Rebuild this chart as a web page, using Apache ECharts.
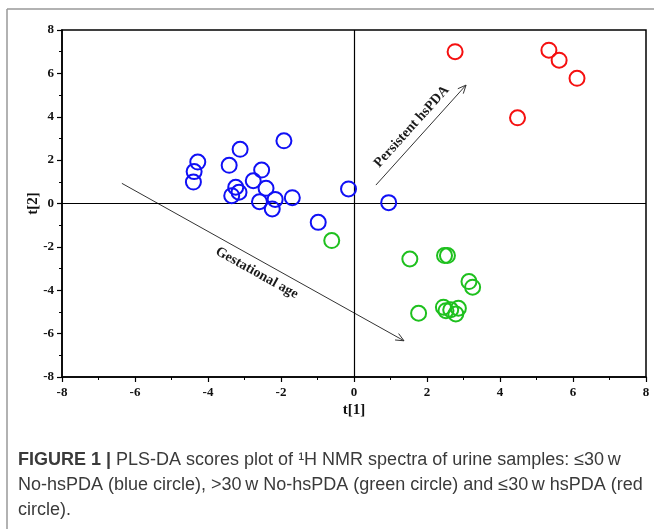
<!DOCTYPE html>
<html>
<head>
<meta charset="utf-8">
<script src="https://cdn.jsdelivr.net/npm/echarts@6/dist/echarts.min.js"></script>
<style>
html,body{margin:0;padding:0;background:#fff;}
#chart{width:654px;height:529px;}
</style>
</head>
<body>
<div id="chart"></div>
<script>
// ---- data ----
var blueNoHsPDA = [
  [-1.92, 2.89], [-3.12, 2.50], [-4.28, 1.91], [-4.38, 1.47], [-4.40, 0.99],
  [-3.42, 1.76], [-2.53, 1.54], [-2.76, 1.05], [-2.41, 0.70], [-3.24, 0.75],
  [-3.15, 0.52], [-3.35, 0.36], [-2.59, 0.08], [-2.16, 0.19], [-2.24, -0.25],
  [-1.69, 0.27], [-0.15, 0.67], [0.95, 0.04], [-0.98, -0.87]
];
var greenNoHsPDA = [
  [-0.61, -1.71], [1.53, -2.56], [2.48, -2.40], [2.56, -2.40], [3.15, -3.60],
  [3.25, -3.86], [1.77, -5.06], [2.45, -4.78], [2.52, -4.94], [2.79, -5.09],
  [2.86, -4.83], [2.65, -4.90]
];
var redHsPDA = [
  [2.77, 7.00], [5.34, 7.07], [5.62, 6.61], [6.11, 5.77], [4.48, 3.95]
];
// annotation arrows: [x1, y1, x2, y2] in data units
var arrows = [
  [0.60, 0.85, 3.07, 5.46],
  [-6.36, 0.93, 1.37, -6.33]
];
var arrowLabels = ['Persistent hsPDA', 'Gestational age'];
var arrowLabelSide = [-1, 1];
var xName = 't[1]';
var yName = 't[2]';
var captionLines = [
  '{b|FIGURE 1 |} PLS-DA scores plot of \u00b9H NMR spectra of urine samples: \u226430\u2009w',
  'No-hsPDA (blue circle), >30\u2009w No-hsPDA (green circle) and \u226430\u2009w hsPDA (red',
  'circle).'
];

var serif = '"Liberation Serif","DejaVu Serif",serif';
var sans = '"Liberation Sans","Noto Sans",Arial,sans-serif';

function circleSeries(name, data, color) {
  return {
    name: name, type: 'scatter', data: data,
    symbol: 'circle', symbolSize: 15,
    itemStyle: {color: 'rgba(0,0,0,0)', borderColor: color, borderWidth: 2, opacity: 1},
    emphasis: {disabled: true},
    z: 5
  };
}

var chart = echarts.init(document.getElementById('chart'), null, {renderer: 'canvas'});

var option = {
  animation: false,
  backgroundColor: '#ffffff',
  title: {
    text: captionLines.join('\n'),
    left: 13, top: 443,
    textStyle: {
      fontFamily: sans, fontSize: 18, fontWeight: 'normal', color: '#3a3a3a', lineHeight: 25,
      rich: {
        b: {fontFamily: sans, fontSize: 18, fontWeight: 'bold', color: '#3a3a3a', lineHeight: 25}
      }
    }
  },
  graphic: [
    {type: 'line', shape: {x1: 7, y1: 9, x2: 7, y2: 529}, style: {stroke: '#999', lineWidth: 1.5}},
    {type: 'line', shape: {x1: 7, y1: 9, x2: 654, y2: 9}, style: {stroke: '#999', lineWidth: 1.5}}
  ],
  grid: {left: 62, right: 8, top: 30, bottom: 152, show: true, borderColor: '#000', borderWidth: 1.5, backgroundColor: 'transparent'},
  xAxis: {
    type: 'value', min: -8, max: 8, interval: 2,
    name: xName, nameLocation: 'middle', nameGap: 26, nameMoveOverlap: false,
    nameTextStyle: {fontFamily: serif, fontWeight: 'bold', fontSize: 15, color: '#111'},
    axisLine: {show: true, onZero: false, lineStyle: {color: '#000', width: 1.5}},
    axisTick: {show: true, inside: false, length: 5, lineStyle: {color: '#000', width: 1.2}},
    minorTick: {show: true, splitNumber: 2, length: 3, lineStyle: {color: '#000', width: 1}},
    axisLabel: {fontFamily: serif, fontWeight: 'bold', fontSize: 13, color: '#111', margin: 9},
    splitLine: {show: false}
  },
  yAxis: {
    type: 'value', min: -8, max: 8, interval: 2,
    name: yName, nameLocation: 'middle', nameGap: 21, nameRotate: 90, nameMoveOverlap: false,
    nameTextStyle: {fontFamily: serif, fontWeight: 'bold', fontSize: 15, color: '#111'},
    axisLine: {show: true, onZero: false, lineStyle: {color: '#000', width: 1.5}},
    axisTick: {show: true, inside: false, length: 5, lineStyle: {color: '#000', width: 1.2}},
    minorTick: {show: true, splitNumber: 2, length: 3, lineStyle: {color: '#000', width: 1}},
    axisLabel: {fontFamily: serif, fontWeight: 'bold', fontSize: 13, color: '#111', margin: 8},
    splitLine: {show: false}
  },
  series: [
    {
      type: 'line', data: [], silent: true,
      markLine: {
        silent: true, symbol: ['none', 'none'], label: {show: false},
        lineStyle: {color: '#000', width: 1.2, type: 'solid'},
        emphasis: {disabled: true},
        data: [{xAxis: 0}, {yAxis: 0}]
      }
    },
    circleSeries('blue', blueNoHsPDA, '#1010f5'),
    circleSeries('green', greenNoHsPDA, '#1ec01e'),
    circleSeries('red', redHsPDA, '#f51010'),
    {
      type: 'custom', data: arrows, silent: true, clip: false, z: 4,
      renderItem: function (params, api) {
        var p1 = api.coord([api.value(0), api.value(1)]);
        var p2 = api.coord([api.value(2), api.value(3)]);
        var dx = p2[0] - p1[0], dy = p2[1] - p1[1];
        var len = Math.sqrt(dx * dx + dy * dy);
        var ux = dx / len, uy = dy / len;
        var head = 9, spread = 0.42;
        var a = Math.atan2(uy, ux);
        var h1 = [p2[0] - head * Math.cos(a - spread), p2[1] - head * Math.sin(a - spread)];
        var h2 = [p2[0] - head * Math.cos(a + spread), p2[1] - head * Math.sin(a + spread)];
        var side = arrowLabelSide[params.dataIndex];
        var off = 12.5;
        var mx = (p1[0] + p2[0]) / 2 + side * (-uy) * off;
        var my = (p1[1] + p2[1]) / 2 + side * (ux) * off;
        return {
          type: 'group',
          children: [
            {type: 'line', shape: {x1: p1[0], y1: p1[1], x2: p2[0], y2: p2[1]}, style: {stroke: '#333', lineWidth: 1}},
            {type: 'polyline', shape: {points: [h1, p2, h2]}, style: {stroke: '#333', lineWidth: 1, fill: null}},
            {type: 'text', x: mx, y: my, rotation: -a, originX: 0, originY: 0,
              style: {text: arrowLabels[params.dataIndex], fontFamily: serif, fontWeight: 'bold', fontSize: 14,
                fill: '#1a1a1a', align: 'center', verticalAlign: 'middle'}}
          ]
        };
      }
    }
  ]
};
chart.setOption(option);
</script>
</body>
</html>
